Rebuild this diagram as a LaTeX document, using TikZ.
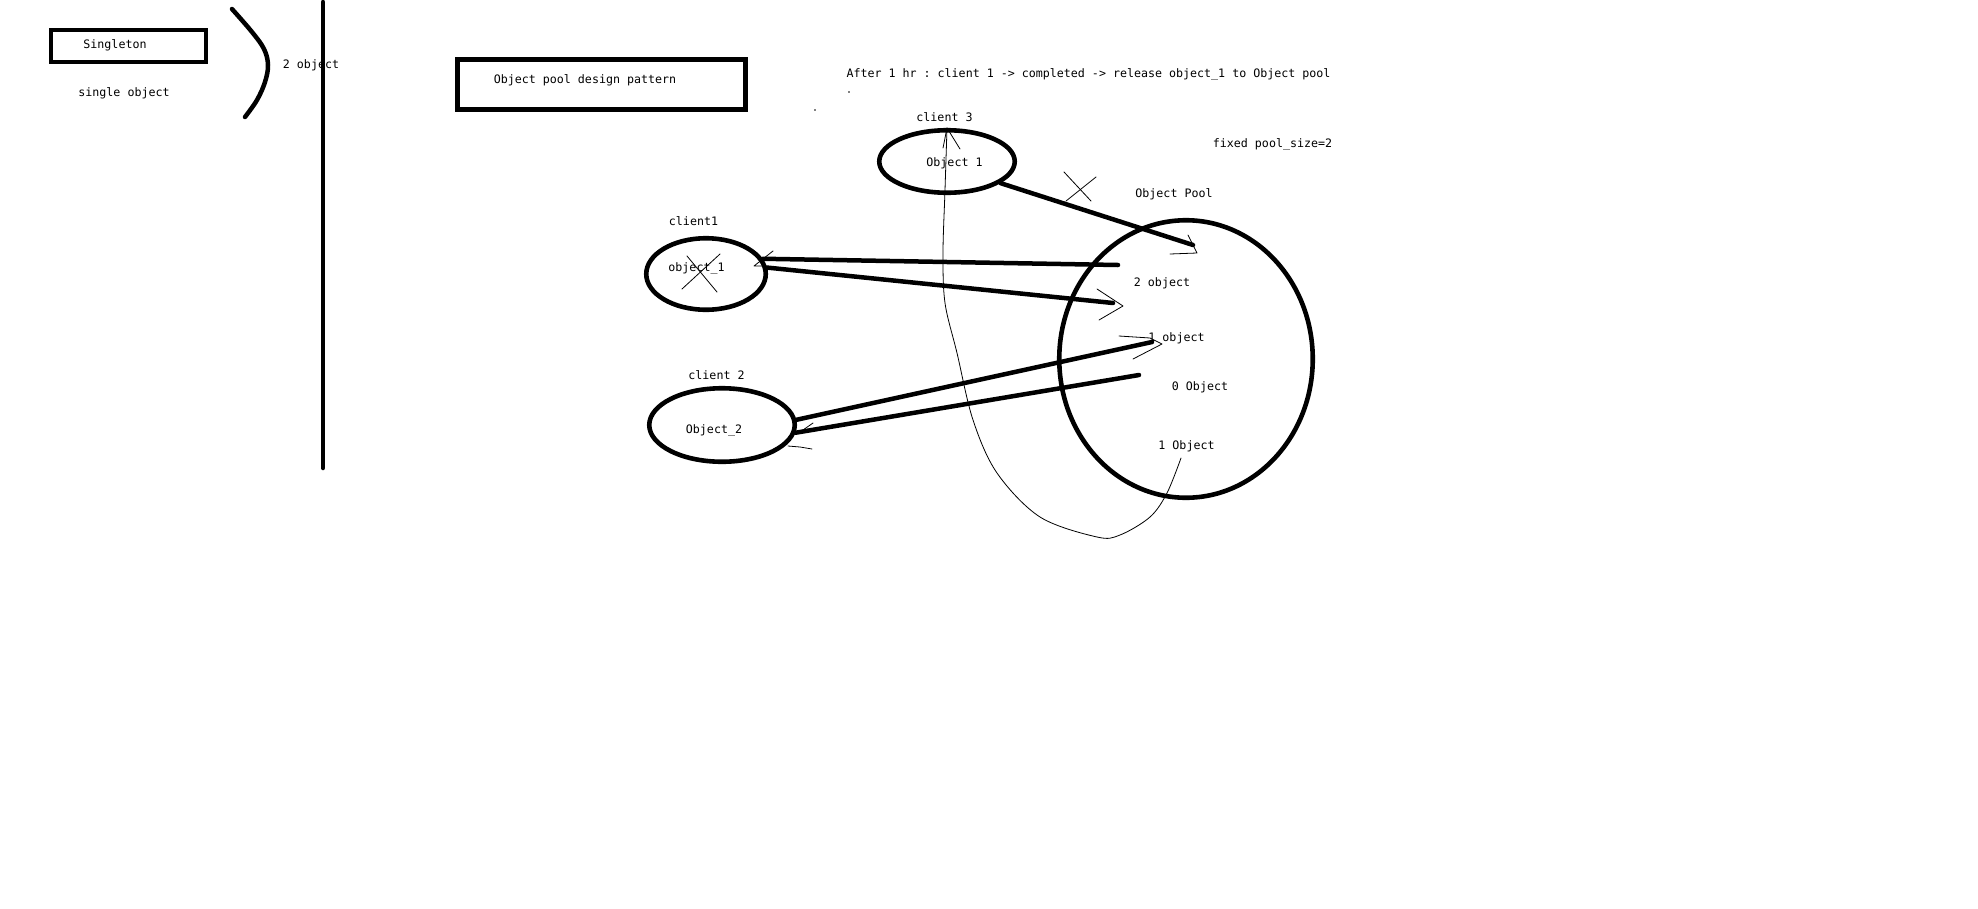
\documentclass[tikz,border=0pt]{standalone}
\usepackage{fontspec}
\setmonofont{DejaVu Sans Mono}
\usetikzlibrary{shapes.geometric,calc}
\begin{document}
\begin{tikzpicture}[x=1pt,y=-1pt,
  heavy/.style={line width=4.5pt,line cap=round,line join=round},
  pen/.style={line width=0.8pt,line cap=round,line join=round},
  lbl/.style={font=\ttfamily\fontsize{11.65}{13}\selectfont,inner sep=0pt,
              text height=8.4pt,text depth=0pt},
  bubble/.style={ellipse,draw,line width=4.6pt,inner sep=0pt},
  frame/.style={rectangle,draw,line width=4.6pt,inner sep=0pt}]

% canvas
\fill[white] (0,0) rectangle (1978,908);
\useasboundingbox (0,0) rectangle (1978,908);

% ---- left panel: singleton ----
\node[frame,minimum width=155pt,minimum height=32pt] (single) at (128.5,46) {};
\node[lbl] (tsingle) at (115,44) {Singleton};
\node[lbl] (tsingleobj) at (124,92) {single object};
\draw[heavy] plot[smooth,tension=0.6] coordinates
  {(232,9) (252,32) (264,49) (268,65) (265,82) (257,100) (245,117)};
\node[lbl] (ttwoobj) at (311,64) {2 object};
\draw[heavy] (323,2) -- (323,468);

% ---- title and notes ----
\node[frame,minimum width=288pt,minimum height=50pt] (title) at (601.5,84.5) {};
\node[lbl] (ttitle) at (585,79) {Object pool design pattern};
\node[lbl] (tafter) at (1088.5,73)
  {After 1 hr : client 1 -> completed -> release object\_1 to Object pool};
\fill (849,92) circle[radius=0.8pt];
\fill (815,110) circle[radius=0.8pt];
\node[lbl] (tsize) at (1272.5,143.5) {fixed pool\_size=2};

% ---- clients and pool ----
\node[bubble,minimum width=135.5pt,minimum height=62.5pt] (c3) at (947,161.5) {};
\node[bubble,minimum width=119.5pt,minimum height=71.5pt] (c1) at (706,274) {};
\node[bubble,minimum width=145.5pt,minimum height=73.5pt] (c2) at (722,425) {};
\node[bubble,minimum width=253.5pt,minimum height=277.5pt] (pool) at (1186,359) {};

\node[lbl] (tc3) at (944.5,117) {client 3};
\node[lbl] (to1) at (954.5,162) {Object 1};
\node[lbl] (tpool) at (1174,193) {Object Pool};
\node[lbl] (tc1) at (693.5,221) {client1};
\node[lbl] (tobj1) at (696.5,267) {object\_1};
\node[lbl] (tc2) at (716.5,375) {client 2};
\node[lbl] (tobj2) at (714,429) {Object\_2};
\node[lbl] (tp2) at (1162,282) {2 object};
\node[lbl] (tp1) at (1176.5,337) {1 object};
\node[lbl] (tp0) at (1200,386) {0 Object};
\node[lbl] (tpb) at (1186.5,445) {1 Object};

% free ends of the connectors inside the pool
\coordinate (e3) at (1193,245);
\coordinate (e1) at (1118,265);
\coordinate (e2) at (1113,303);
\coordinate (e4) at (1152,342);
\coordinate (e5) at (1139,375);
\coordinate (s1) at (1181,458);

% client 3 -> pool (crossed out)
\draw[heavy] (c3.-22) -- (e3);
\draw[pen] (1188,235) -- (1197,253) -- (1170,254);
\draw[pen] (1064,172) -- (1091,201);
\draw[pen] (1096,177) -- (1066,201);

% pool -> client1 and client1 -> pool
\draw[heavy] (e1) -- (c1.15);
\draw[pen] (773,251) -- (754,266) -- (767,266);
\draw[heavy] (c1.6) -- (e2);
\draw[pen] (1097,289) -- (1123,306) -- (1099,320);
\draw[pen] (687,256) -- (717,292);
\draw[pen] (720,254) -- (682,289);

% client 2 -> pool and pool -> client 2
\draw[heavy] (c2.4) -- (e4);
\draw[pen] (1119,336) -- (1150,338) -- (1162,344) -- (1133,359);
\draw[heavy] (e5) -- (c2.-6);
\draw[pen] (813,423) -- (803,430);
\draw[pen] (788,446) -- (800,447) -- (812,449);

% released object handed on to client 3
\draw[pen] plot[smooth,tension=0.55] coordinates
  {(s1) (1167,493) (1150,517) (1120,535) (1097,537) (1040,517) (997,473)
   (973,420) (957,353) (945,303) (943,253) (945,190) (c3.north)};
\draw[pen] (943,148) -- (c3.north) -- (960,149);

\end{tikzpicture}
\end{document}
